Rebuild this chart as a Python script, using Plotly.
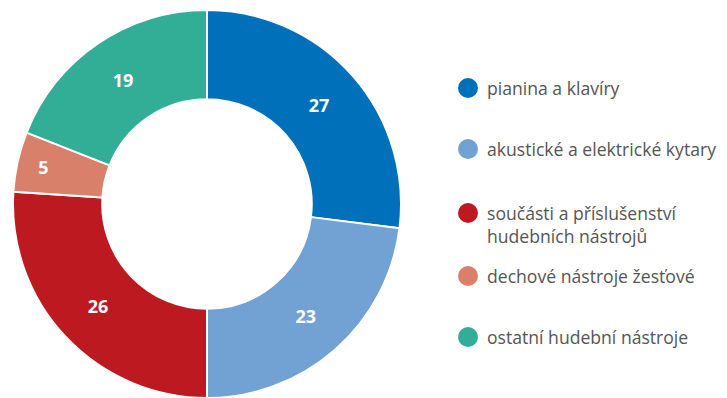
import plotly.graph_objects as go

# Share of each instrument group (%)
categories = [
    "pianina a klavíry",
    "akustické a elektrické kytary",
    "součásti a příslušenství<br>hudebních nástrojů",
    "dechové nástroje žesťové",
    "ostatní hudební nástroje",
]
values = [27, 23, 26, 5, 19]
colors = ["#0070BA", "#72A1D4", "#BC1A20", "#D9806A", "#32AE96"]

W, H = 727, 398
TOP = 10
PH = H - TOP  # height of the plotting area


def py(y_px):
    """Pixel row (from top of page) to paper y."""
    return 1 - (y_px - TOP) / PH


fig = go.Figure(
    go.Pie(
        labels=categories,
        values=values,
        hole=0.54,
        sort=False,
        direction="clockwise",
        rotation=0,
        marker=dict(colors=colors, line=dict(color="white", width=2)),
        texttemplate="%{value}",
        textposition="inside",
        insidetextorientation="horizontal",
        textfont=dict(family="Open Sans", size=18, color="white", weight="bold"),
        domain=dict(x=[13 / W, 401 / W], y=[0, 1]),
        showlegend=False,
        hoverinfo="label+value",
    )
)

# Custom legend: coloured dot plus label, one row per category
legend_y = [88, 149, 213, 276, 337]
text_y = [88, 149, 224, 276, 337]
for name, col, yy, ty in zip(categories, colors, legend_y, text_y):
    fig.add_shape(
        type="circle",
        xref="paper", yref="paper",
        x0=(468 - 10) / W, x1=(468 + 10) / W,
        y0=py(yy + 10), y1=py(yy - 10),
        fillcolor=col, line=dict(width=0),
    )
    fig.add_annotation(
        xref="paper", yref="paper",
        x=485 / W, y=py(ty),
        xanchor="left", yanchor="middle",
        text=name, showarrow=False, align="left",
        font=dict(family="Open Sans", size=17.6, color="#555555"),
    )

fig.update_layout(
    width=W, height=H,
    margin=dict(l=0, r=0, t=TOP, b=0),
    paper_bgcolor="white",
    plot_bgcolor="white",
)

fig.write_html("out.html")
